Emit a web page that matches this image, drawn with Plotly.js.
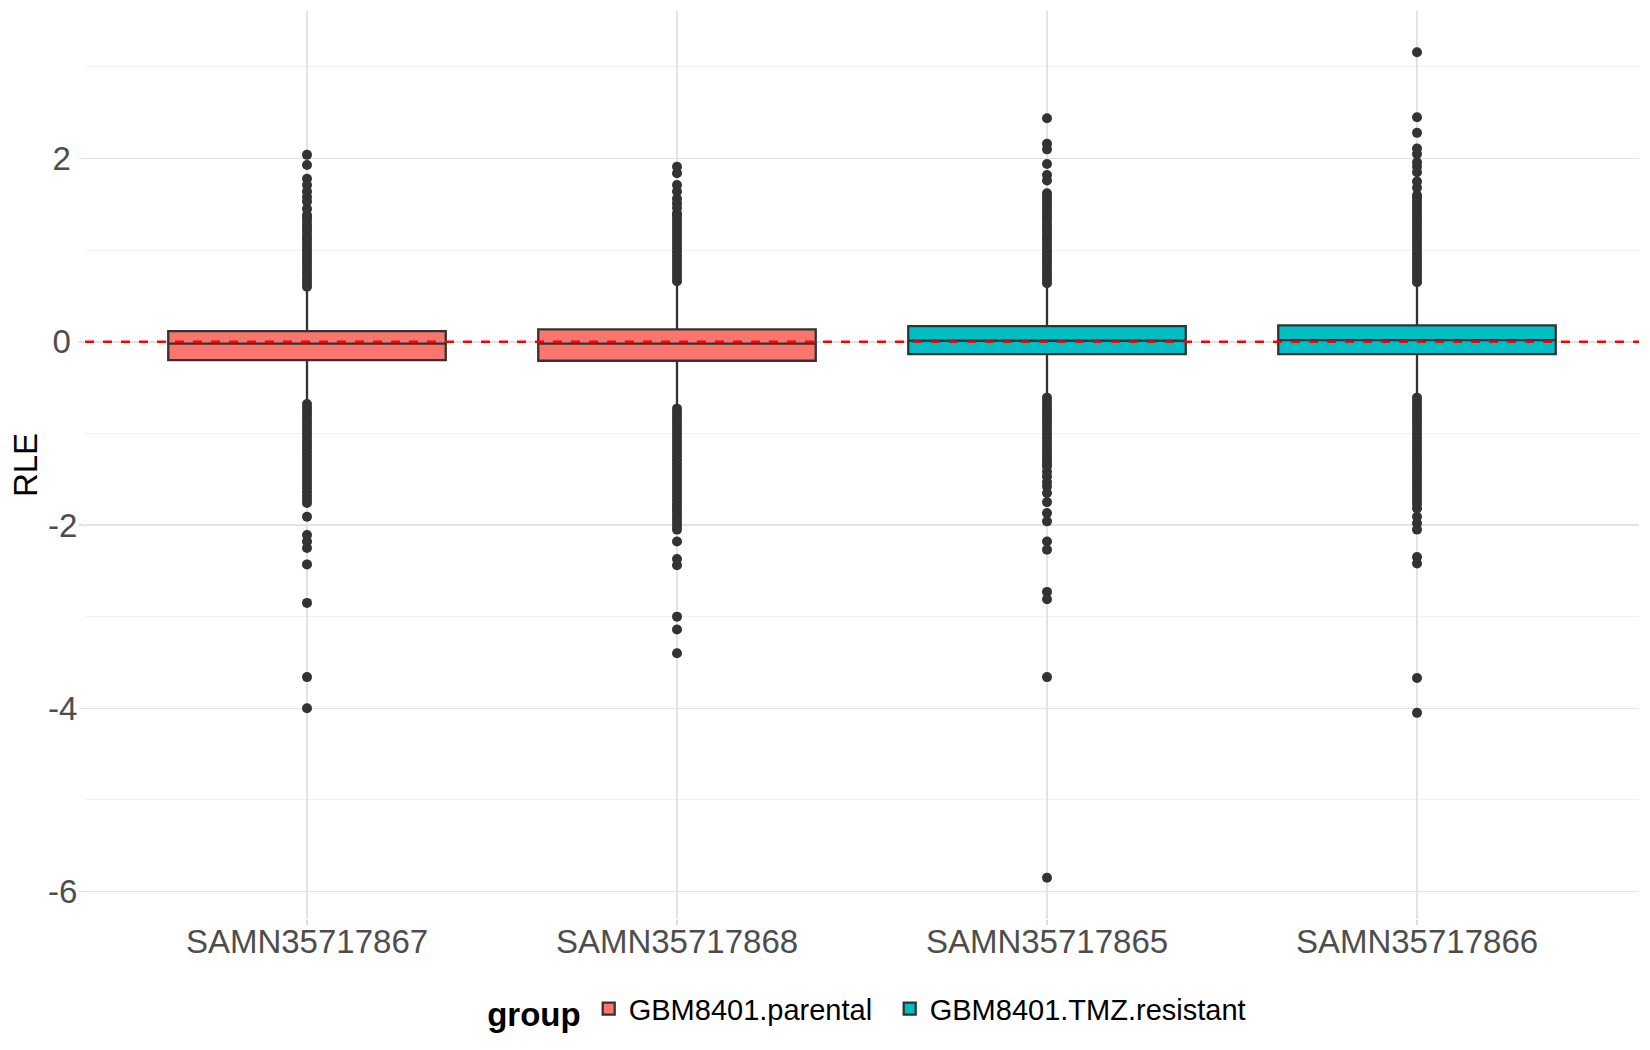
<!DOCTYPE html>
<html>
<head>
<meta charset="utf-8">
<script src="https://cdn.plot.ly/plotly-3.0.1.min.js"></script>
<style>html,body{margin:0;padding:0;background:#fff;} #chart{width:1650px;height:1050px;}</style>
</head>
<body>
<div id="chart"></div>
<script>
// ---- data ----
const samples = ['SAMN35717867', 'SAMN35717868', 'SAMN35717865', 'SAMN35717866'];
const groupNames = ['GBM8401.parental', 'GBM8401.TMZ.resistant'];

const parentalSamples = ['SAMN35717867', 'SAMN35717868'];
const parentalQ1 = [-0.20, -0.207];
const parentalMedian = [-0.02, -0.02];
const parentalQ3 = [0.117, 0.135];
const parentalLowerFence = [-0.66, -0.71];
const parentalUpperFence = [0.58, 0.64];

const resistantSamples = ['SAMN35717865', 'SAMN35717866'];
const resistantQ1 = [-0.134, -0.134];
const resistantMedian = [0.011, 0.018];
const resistantQ3 = [0.171, 0.178];
const resistantLowerFence = [-0.59, -0.60];
const resistantUpperFence = [0.62, 0.63];

// outliers per sample
const out867 = [0.60,0.64,0.68,0.72,0.76,0.80,0.84,0.88,0.92,0.96,1.00,1.04,1.08,1.12,1.16,1.20,1.24,1.28,1.32,1.36,1.38,1.45,1.53,1.58,1.64,1.71,1.78,1.93,2.04,
  -0.68,-0.72,-0.76,-0.80,-0.84,-0.88,-0.92,-0.96,-1.00,-1.04,-1.08,-1.12,-1.16,-1.20,-1.24,-1.28,-1.32,-1.36,-1.40,-1.44,-1.48,-1.52,-1.56,-1.60,-1.64,-1.68,-1.72,-1.76,
  -1.91,-2.11,-2.18,-2.25,-2.43,-2.85,-3.66,-4.00];
const out868 = [0.66,0.70,0.74,0.78,0.82,0.86,0.90,0.94,0.98,1.02,1.06,1.10,1.14,1.18,1.22,1.26,1.30,1.34,1.38,1.40,1.46,1.51,1.56,1.64,1.71,1.84,1.91,
  -0.73,-0.77,-0.81,-0.85,-0.89,-0.93,-0.97,-1.01,-1.05,-1.09,-1.13,-1.17,-1.21,-1.25,-1.29,-1.33,-1.37,-1.41,-1.45,-1.49,-1.53,-1.57,-1.61,-1.65,-1.69,-1.73,-1.77,-1.81,-1.85,-1.89,-1.93,-1.97,-2.01,-2.05,
  -2.18,-2.37,-2.44,-3.00,-3.14,-3.40];
const out865 = [0.64,0.68,0.72,0.76,0.80,0.84,0.88,0.92,0.96,1.00,1.04,1.08,1.12,1.16,1.20,1.24,1.28,1.32,1.36,1.40,1.44,1.48,1.52,1.56,1.60,1.62,1.76,1.82,1.94,2.10,2.16,2.44,
  -0.61,-0.65,-0.69,-0.73,-0.77,-0.81,-0.85,-0.89,-0.93,-0.97,-1.01,-1.05,-1.09,-1.13,-1.17,-1.21,-1.25,-1.29,-1.33,-1.36,-1.42,-1.47,-1.53,-1.58,-1.65,-1.75,-1.87,-1.96,
  -2.18,-2.27,-2.73,-2.81,-3.66,-5.85];
const out866 = [0.65,0.69,0.73,0.77,0.81,0.85,0.89,0.93,0.97,1.01,1.05,1.09,1.13,1.17,1.21,1.25,1.29,1.33,1.37,1.41,1.45,1.49,1.53,1.57,1.60,1.68,1.75,1.85,1.91,1.96,2.05,2.11,2.28,2.45,3.16,
  -0.61,-0.65,-0.69,-0.73,-0.77,-0.81,-0.85,-0.89,-0.93,-0.97,-1.01,-1.05,-1.09,-1.13,-1.17,-1.21,-1.25,-1.29,-1.33,-1.37,-1.41,-1.45,-1.49,-1.53,-1.57,-1.61,-1.65,-1.69,-1.73,-1.77,-1.82,
  -1.91,-1.98,-2.05,-2.35,-2.42,-3.67,-4.05];

const yTickVals = [-6, -4, -2, 0, 2];
const yTickText = ['-6', '-4', '-2', '0\u2009', '2\u2009'];
const yMinorVals = [-5, -3, -1, 1, 3];
const refLineY = 0;

// ---- styling ----
const FONT = 'Liberation Sans, Arial, Helvetica, sans-serif';
const outline = '#333333';

const boxCommon = {
  type: 'box',
  boxpoints: false,
  width: 0.75,
  whiskerwidth: 0,
  line: { color: outline, width: 2.3 },
  hoverinfo: 'skip'
};

const traces = [
  Object.assign({}, boxCommon, {
    name: groupNames[0],
    x: parentalSamples,
    q1: parentalQ1, median: parentalMedian, q3: parentalQ3,
    lowerfence: parentalLowerFence, upperfence: parentalUpperFence,
    fillcolor: '#F8766D',
    legendwidth: 256
  }),
  Object.assign({}, boxCommon, {
    name: groupNames[1],
    x: resistantSamples,
    q1: resistantQ1, median: resistantMedian, q3: resistantQ3,
    lowerfence: resistantLowerFence, upperfence: resistantUpperFence,
    fillcolor: '#00BFC4'
  })
];

const outlierSets = [out867, out868, out865, out866];
samples.forEach(function (s, i) {
  traces.push({
    type: 'scatter',
    mode: 'markers',
    x: outlierSets[i].map(function () { return s; }),
    y: outlierSets[i],
    marker: { color: outline, size: 10, line: { width: 0 } },
    showlegend: false,
    hoverinfo: 'skip'
  });
});

const layout = {
  width: 1650,
  height: 1050,
  margin: { l: 85, r: 11, t: 11, b: 131 },
  paper_bgcolor: '#ffffff',
  plot_bgcolor: '#ffffff',
  font: { family: FONT, color: '#000000' },
  boxmode: 'overlay',
  showlegend: true,
  xaxis: {
    type: 'category',
    categoryorder: 'array',
    categoryarray: samples,
    range: [-0.6, 3.6],
    showgrid: true,
    gridcolor: '#e3e3e3',
    gridwidth: 1.5,
    zeroline: false,
    showline: false,
    ticks: 'outside',
    ticklen: 5,
    tickwidth: 1.5,
    tickcolor: '#dedede',
    ticklabelstandoff: -12,
    tickfont: { family: FONT, size: 33, color: '#4d4d4d' },
    automargin: false,
    fixedrange: true
  },
  yaxis: {
    range: [-6.30, 3.61],
    tickmode: 'array',
    tickvals: yTickVals,
    ticktext: yTickText,
    showgrid: true,
    gridcolor: '#e3e3e3',
    gridwidth: 1.5,
    minor: {
      tickmode: 'array',
      tickvals: yMinorVals,
      showgrid: true,
      gridcolor: '#f1f1f1',
      gridwidth: 1.2,
      ticks: ''
    },
    zeroline: false,
    showline: false,
    ticks: 'outside',
    ticklen: 5,
    tickwidth: 1.5,
    tickcolor: '#dedede',
    ticklabelstandoff: -5,
    tickfont: { family: FONT, size: 33, color: '#4d4d4d' },
    title: { text: 'RLE', font: { family: FONT, size: 33, color: '#000000' }, standoff: 0 },
    automargin: false,
    fixedrange: true
  },
  legend: {
    orientation: 'h',
    x: 0.504,
    xanchor: 'center',
    y: -0.1,
    yanchor: 'middle',
    bgcolor: 'rgba(0,0,0,0)',
    font: { family: FONT, size: 29, color: '#000000' },
    title: { text: 'group', side: 'left', font: { family: FONT, size: 33, color: '#000000', weight: 'bold' } },
    traceorder: 'normal'
  },
  shapes: [{
    type: 'line',
    xref: 'paper', x0: 0, x1: 1,
    yref: 'y', y0: refLineY, y1: refLineY,
    line: { color: '#ff0000', width: 2.6, dash: '9px,9px' },
    layer: 'above'
  }]
};

Plotly.newPlot('chart', traces, layout, { staticPlot: true, displayModeBar: false });
</script>
</body>
</html>
